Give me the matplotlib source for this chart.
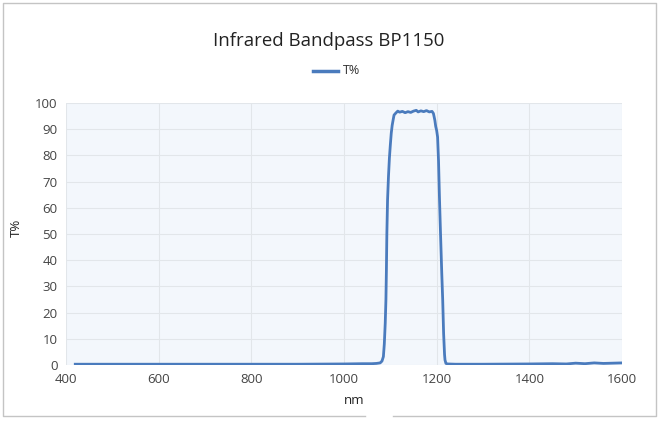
import matplotlib.pyplot as plt
from matplotlib.lines import Line2D

# spectrum data
wavelength = [420, 500, 600, 700, 800, 900, 1000, 1040, 1060, 1070, 1078, 1082,
              1085, 1087, 1089, 1090.5, 1091.5, 1092.5, 1094, 1096, 1098, 1100,
              1102, 1104, 1106, 1108, 1112, 1116, 1120, 1126, 1132, 1138, 1144,
              1150, 1156, 1160, 1166, 1172, 1178, 1184, 1190, 1193, 1196, 1198,
              1200, 1202, 1204, 1206, 1208, 1211, 1213, 1215, 1217, 1218, 1220,
              1224, 1240, 1300, 1400, 1450, 1480, 1500, 1520, 1540, 1560, 1580, 1600]
transmission = [0.3, 0.3, 0.3, 0.3, 0.3, 0.3, 0.4, 0.5, 0.5, 0.6, 0.8, 1.5,
                3.2, 8, 16, 25, 36, 50, 63, 72, 79, 84,
                88.5, 91.5, 93.5, 95.4, 96.2, 96.9, 96.5, 96.8, 96.3, 96.7, 96.4,
                96.9, 97.2, 96.6, 97.0, 96.7, 97.1, 96.6, 96.8, 96.0, 93.5, 91,
                89.5, 87, 78, 64, 52, 35, 25, 12, 4, 1.9, 0.6,
                0.4, 0.3, 0.3, 0.4, 0.5, 0.4, 0.7, 0.5, 0.8, 0.6, 0.7, 0.8]

x_ticks = [400, 600, 800, 1000, 1200, 1400, 1600]
y_ticks = [0, 10, 20, 30, 40, 50, 60, 70, 80, 90, 100]

plt.rcParams['font.family'] = ['Open Sans', 'DejaVu Sans']

W, H = 658, 426
fig = plt.figure(figsize=(W / 100, H / 100), dpi=100)
ax = fig.add_axes([66 / W, (H - 365) / H, 556 / W, 262 / H])

line_color = '#4a7bbd'
ax.set_facecolor('#f3f7fc')
ax.plot(wavelength, transmission, color=line_color, linewidth=2.0)

ax.set_xlim(400, 1600)
ax.set_ylim(0, 100)
ax.set_xticks(x_ticks)
ax.set_yticks(y_ticks)
ax.grid(True, color='#e2e6ea', linewidth=0.8)
ax.set_axisbelow(True)
for s in ax.spines.values():
    s.set_visible(False)
ax.tick_params(length=0, labelsize=9.5, labelcolor='#444444', pad=6)

# axis titles placed where the reference has them
fig.text(354 / W, 1 - 401 / H, 'nm', ha='center', va='center', fontsize=9.5, color='#222222')
fig.text(16 / W, 1 - 228 / H, 'T%', ha='center', va='center', rotation=90,
         fontsize=9.5, color='#222222')

fig.text(329 / W, 1 - 41 / H, 'Infrared Bandpass BP1150', ha='center', va='center',
         fontsize=13.4, color='#222222')

# legend
fig.add_artist(Line2D([313 / W, 338 / W], [1 - 71 / H, 1 - 71 / H],
                      color=line_color, linewidth=2.5))
fig.text(343 / W, 1 - 71 / H, 'T%', ha='left', va='center', fontsize=9, color='#333333')

# outer frame with a small gap at the bottom
frame = dict(color='#c4c4c4', linewidth=1.0)
x0, x1, y0, y1 = 2.5 / W, 655.5 / W, 1 - 415.5 / H, 1 - 2.5 / H
fig.add_artist(Line2D([365 / W, x0, x0, x1, x1, 393 / W], [y0, y0, y1, y1, y0, y0], **frame))

fig.savefig('out.png', dpi=100, facecolor='white')
